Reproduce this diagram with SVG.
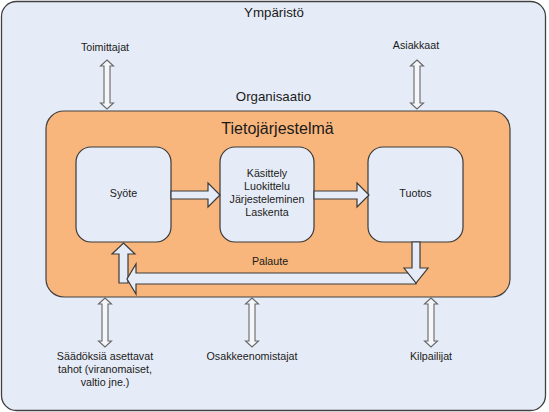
<svg xmlns="http://www.w3.org/2000/svg" width="549" height="412" viewBox="0 0 549 412">
<style>
.t{font-family:"Liberation Sans",Arial,sans-serif;fill:#1a1a1a;text-anchor:middle}
.s{font-size:10.7px}
.m{font-size:13.3px}
.l{font-size:16px}
.box{fill:#e6ecf7;stroke:#3a3a3a;stroke-width:1.2}
.blk{fill:#e6ecf7;stroke:#3a3a3a;stroke-width:1.2;stroke-linejoin:miter}
.dbl{fill:#f4f6fa;stroke:#666;stroke-width:1.1}
</style>
<defs>
<path id="dbl" d="M0,0 L6.5,6 L3,6 L3,43 L6.5,43 L0,49 L-6.5,43 L-3,43 L-3,6 L-6.5,6 Z"/>
</defs>
<g id="ymparisto">
<rect x="1.5" y="1.5" width="544" height="409" rx="15" fill="#e6ecf7" stroke="#404040" stroke-width="1.3"/>
<text class="t m" x="274" y="17">Ympäristö</text>
<text class="t m" x="273.5" y="101">Organisaatio</text>
</g>
<g id="tietojarjestelma">
<rect x="46" y="111" width="464" height="186" rx="18" fill="#f8b67c" stroke="#404040" stroke-width="1.2"/>
<text class="t l" x="277.5" y="134">Tietojärjestelmä</text>
</g>
<g id="syote">
<rect class="box" x="76" y="147" width="95" height="95" rx="15"/>
<text class="t s" x="123.5" y="197">Syöte</text>
</g>
<g id="kasittely">
<rect class="box" x="220" y="147" width="94" height="95" rx="15"/>
<text class="t s" x="267" y="177">Käsittely</text>
<text class="t s" x="267" y="190">Luokittelu</text>
<text class="t s" x="267" y="203">Järjesteleminen</text>
<text class="t s" x="267" y="216">Laskenta</text>
</g>
<g id="tuotos">
<rect class="box" x="368" y="147" width="95" height="95" rx="15"/>
<text class="t s" x="415.5" y="197">Tuotos</text>
</g>
<g id="toimittajat"><text class="t s" x="105" y="51">Toimittajat</text></g>
<g id="asiakkaat"><text class="t s" x="416" y="49">Asiakkaat</text></g>
<g id="saadokset">
<text class="t s" x="105" y="360">Säädöksiä asettavat</text>
<text class="t s" x="105" y="373">tahot (viranomaiset,</text>
<text class="t s" x="105" y="386">valtio jne.)</text>
</g>
<g id="osakkeenomistajat"><text class="t s" x="252" y="360">Osakkeenomistajat</text></g>
<g id="kilpailijat"><text class="t s" x="431" y="360">Kilpailijat</text></g>
<g id="connectors">
<polygon class="blk" points="171,191 208,191 208,183 220,195 208,207 208,199 171,199"/>
<polygon class="blk" points="314,191 357,191 357,183 369,195 357,207 357,199 314,199"/>
<polygon class="blk" points="119,283 119,254 112,254 123.5,243 135,254 128,254 128,283"/>
<polygon class="blk" points="416,273 416,284 136,284 136,294 127,279 136,264 136,273"/>
<polygon class="blk" points="412,242 420,242 420,268 428,268 416,283 404,268 412,268"/>
<text class="t s" x="270" y="265">Palaute</text>
<use href="#dbl" class="dbl" x="107" y="60"/>
<use href="#dbl" class="dbl" x="417" y="60"/>
<use href="#dbl" class="dbl" x="105" y="298"/>
<use href="#dbl" class="dbl" x="252" y="298"/>
<use href="#dbl" class="dbl" x="431" y="298"/>
</g>
</svg>
